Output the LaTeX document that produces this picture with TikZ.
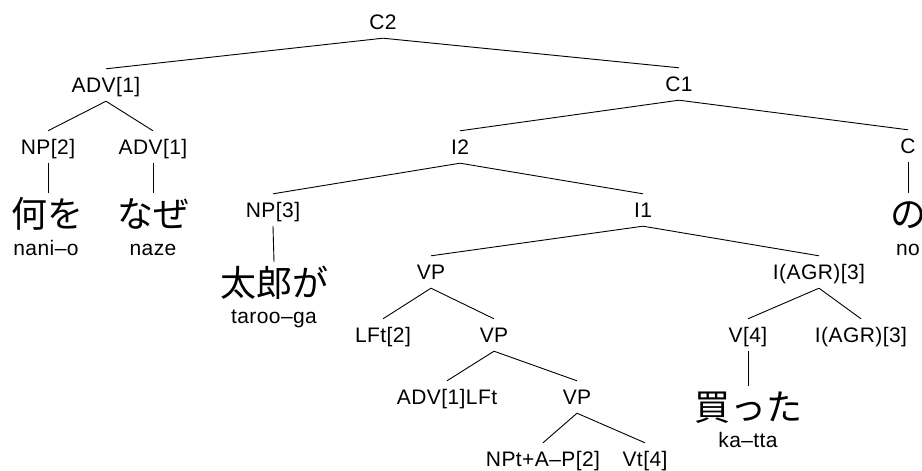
\documentclass[tikz,border=0pt]{standalone}
\usepackage{fontspec}
\setmainfont{Liberation Sans}[LetterSpace=2]
\newfontfamily\jfont{Noto Sans CJK JP}
\begin{document}
\begin{tikzpicture}[x=1pt,y=-1pt,
  lab/.style={inner sep=0pt, minimum height=32pt, text height=15pt, text depth=0pt, font=\fontsize{21}{24}\selectfont},
  jp/.style={anchor=base, inner sep=0pt, text height=34pt, text depth=4pt, font=\jfont\fontsize{36}{40}\selectfont},
  rom/.style={anchor=base, inner sep=0pt, font=\fontsize{21}{24}\selectfont},
  br/.style={line width=0.9pt, black}]
\useasboundingbox (0,0) rectangle (922,471);
\fill[white] (0,0) rectangle (922,471);
\clip (0,0) rectangle (922,471);
% labels
\node[lab] (c2) at (383,22) {C2};
\node[lab] (adv1) at (106,85) {ADV[1]};
\node[lab] (c1) at (679,84) {C1};
\node[lab] (np2) at (48,147) {NP[2]};
\node[lab] (adv1b) at (153,147) {ADV[1]};
\node[lab] (i2) at (460,147) {I2};
\node[lab] (c) at (908,146) {C};
\node[lab] (np3) at (273,210) {NP[3]};
\node[lab] (i1) at (643,210) {I1};
\node[lab] (vp1) at (431,272) {VP};
\node[lab] (iagr) at (819,272) {I(AGR)[3]};
\node[lab] (lft) at (383,335) {LFt[2]};
\node[lab] (vp2) at (494,335) {VP};
\node[lab] (v4) at (748,335) {V[4]};
\node[lab] (iagrb) at (861,335) {I(AGR)[3]};
\node[lab] (advlft) at (447,397) {ADV[1]LFt};
\node[lab] (vp3) at (577,397) {VP};
\node[lab] (npt) at (543,459) {NPt+A–P[2]};
\node[lab] (vt) at (645,459) {Vt[4]};
% leaves
\node[jp] (j1) at (48,227) {何を};
\node[rom] (r1) at (46,255) {nani–o};
\node[jp] (j2) at (153,227) {なぜ};
\node[rom] (r2) at (153,255) {naze};
\node[jp] (j3) at (274,296) {太郎が};
\node[rom] (r3) at (274,323) {taroo–ga};
\node[jp] (j4) at (748,420) {買った};
\node[rom] (r4) at (748,447) {ka–tta};
\node[jp] (j5) at (908,227) {の};
\node[rom] (r5) at (908,255) {no};
% branches
\draw[br] (c2.south) -- (adv1.north);
\draw[br] (c2.south) -- (c1.north);
\draw[br] (adv1.south) -- (np2.north);
\draw[br] (adv1.south) -- (adv1b.north);
\draw[br] (np2.south) -- (j1.north);
\draw[br] (adv1b.south) -- (j2.north);
\draw[br] (c1.south) -- (i2.north);
\draw[br] (c1.south) -- (c.north);
\draw[br] (c.south) -- (j5.north);
\draw[br] (i2.south) -- (np3.north);
\draw[br] (i2.south) -- (i1.north);
\draw[br] (np3.south) -- (j3.north);
\draw[br] (i1.south) -- (vp1.north);
\draw[br] (i1.south) -- (iagr.north);
\draw[br] (vp1.south) -- (lft.north);
\draw[br] (vp1.south) -- (vp2.north);
\draw[br] (vp2.south) -- (advlft.north);
\draw[br] (vp2.south) -- (vp3.north);
\draw[br] (vp3.south) -- (npt.north);
\draw[br] (vp3.south) -- (vt.north);
\draw[br] (iagr.south) -- (v4.north);
\draw[br] (iagr.south) -- (iagrb.north);
\draw[br] (v4.south) -- (j4.north);
\end{tikzpicture}
\end{document}
